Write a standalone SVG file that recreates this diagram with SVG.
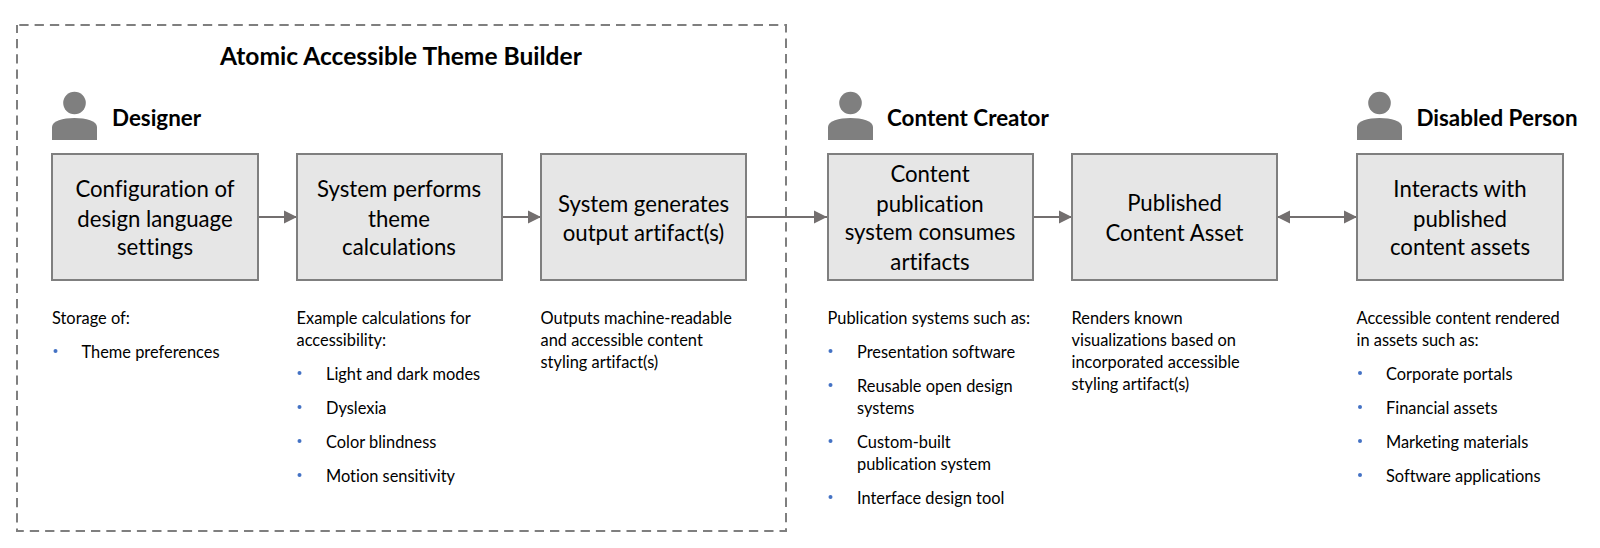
<svg xmlns="http://www.w3.org/2000/svg" width="1600" height="548" viewBox="0 0 1600 548">
<style>
text{font-family:Lato,"Open Sans",sans-serif;fill:#000;font-variant-ligatures:none;transform:translateY(.5px)}
.b{font-size:22.2px;text-anchor:middle}
.h{font-size:22.4px;font-weight:700}
.t{font-size:16.4px}
.box{fill:#e6e6e6;stroke:#7f7f7f;stroke-width:2}
.c{stroke:#736f6f;stroke-width:2;fill:none}
.p{fill:#7f7f7f}
.d{fill:#4472c4}
</style>
<defs>
<marker id="a" markerUnits="userSpaceOnUse" markerWidth="14" markerHeight="14" refX="13" refY="7" orient="auto-start-reverse"><path d="M0,0.5 L13,7 L0,13.5 Z" fill="#736f6f"/></marker>
<g id="person"><circle cx="22.5" cy="11" r="11.3"/><path d="M0,48 V35 C0,29 11,26 22.5,26 C34,26 45,29 45,35 V48 Z"/></g>
</defs>
<rect id="frame" x="17" y="25" width="769" height="506" fill="none" stroke="#7f7f7f" stroke-width="2" stroke-dasharray="9.3 6" stroke-dashoffset="13"/>
<text id="title" x="220" y="64" style="font-size:24.55px;font-weight:700">Atomic Accessible Theme Builder</text>
<g id="connectors">
<line class="c" x1="258" y1="217" x2="297" y2="217" marker-end="url(#a)"/>
<line class="c" x1="502" y1="217" x2="541" y2="217" marker-end="url(#a)"/>
<line class="c" x1="746" y1="217" x2="827" y2="217" marker-end="url(#a)"/>
<line class="c" x1="1033" y1="217" x2="1072" y2="217" marker-end="url(#a)"/>
<line class="c" x1="1277" y1="217" x2="1357" y2="217" marker-start="url(#a)" marker-end="url(#a)"/>
</g>
<g id="designer"><use href="#person" x="52" y="92" class="p"/><text class="h" x="112" y="125">Designer</text></g>
<g id="creator"><use href="#person" x="828" y="92" class="p"/><text class="h" x="887" y="125">Content Creator</text></g>
<g id="disabled"><use href="#person" x="1357" y="92" class="p"/><text class="h" x="1416.5" y="125">Disabled Person</text></g>
<g id="n1"><rect class="box" x="52" y="154" width="206" height="126"/><text class="b" x="155" y="196">Configuration of</text><text class="b" x="155" y="226">design language</text><text class="b" x="155" y="254">settings</text></g>
<g id="n2"><rect class="box" x="297" y="154" width="205" height="126"/><text class="b" x="399" y="196">System performs</text><text class="b" x="399" y="226">theme</text><text class="b" x="399" y="254">calculations</text></g>
<g id="n3"><rect class="box" x="541" y="154" width="205" height="126"/><text class="b" x="643.5" y="211">System generates</text><text class="b" x="643.5" y="240">output artifact(s)</text></g>
<g id="n4"><rect class="box" x="828" y="154" width="205" height="126"/><text class="b" x="930" y="181">Content</text><text class="b" x="930" y="211">publication</text><text class="b" x="930" y="239">system consumes</text><text class="b" x="930" y="269">artifacts</text></g>
<g id="n5"><rect class="box" x="1072" y="154" width="205" height="126"/><text class="b" x="1174.5" y="210">Published</text><text class="b" x="1174.5" y="240">Content Asset</text></g>
<g id="n6"><rect class="box" x="1357" y="154" width="206" height="126"/><text class="b" x="1460" y="196">Interacts with</text><text class="b" x="1460" y="226">published</text><text class="b" x="1460" y="254">content assets</text></g>
<g id="d1"><text class="t" x="52" y="323">Storage of:</text><circle class="d" cx="55.5" cy="351" r="2"/><text class="t" x="81.5" y="357">Theme preferences</text></g>
<g id="d2"><text class="t" x="296.5" y="323">Example calculations for</text><text class="t" x="296.5" y="345">accessibility:</text>
<circle class="d" cx="299.5" cy="373" r="2"/><text class="t" x="326" y="379">Light and dark modes</text>
<circle class="d" cx="299.5" cy="407" r="2"/><text class="t" x="326" y="413">Dyslexia</text>
<circle class="d" cx="299.5" cy="441" r="2"/><text class="t" x="326" y="447">Color blindness</text>
<circle class="d" cx="299.5" cy="475" r="2"/><text class="t" x="326" y="481">Motion sensitivity</text></g>
<g id="d3"><text class="t" x="540.5" y="323">Outputs machine-readable</text><text class="t" x="540.5" y="345">and accessible content</text><text class="t" x="540.5" y="367">styling artifact(s)</text></g>
<g id="d4"><text class="t" x="827.5" y="323">Publication systems such as:</text>
<circle class="d" cx="830.5" cy="351" r="2"/><text class="t" x="857" y="357">Presentation software</text>
<circle class="d" cx="830.5" cy="385" r="2"/><text class="t" x="857" y="391">Reusable open design</text><text class="t" x="857" y="413">systems</text>
<circle class="d" cx="830.5" cy="441" r="2"/><text class="t" x="857" y="447">Custom-built</text><text class="t" x="857" y="469">publication system</text>
<circle class="d" cx="830.5" cy="497" r="2"/><text class="t" x="857" y="503">Interface design tool</text></g>
<g id="d5"><text class="t" x="1071.5" y="323">Renders known</text><text class="t" x="1071.5" y="345">visualizations based on</text><text class="t" x="1071.5" y="367">incorporated accessible</text><text class="t" x="1071.5" y="389">styling artifact(s)</text></g>
<g id="d6"><text class="t" x="1356.5" y="323">Accessible content rendered</text><text class="t" x="1356.5" y="345">in assets such as:</text>
<circle class="d" cx="1360" cy="373" r="2"/><text class="t" x="1386" y="379">Corporate portals</text>
<circle class="d" cx="1360" cy="407" r="2"/><text class="t" x="1386" y="413">Financial assets</text>
<circle class="d" cx="1360" cy="441" r="2"/><text class="t" x="1386" y="447">Marketing materials</text>
<circle class="d" cx="1360" cy="475" r="2"/><text class="t" x="1386" y="481">Software applications</text></g>
</svg>
